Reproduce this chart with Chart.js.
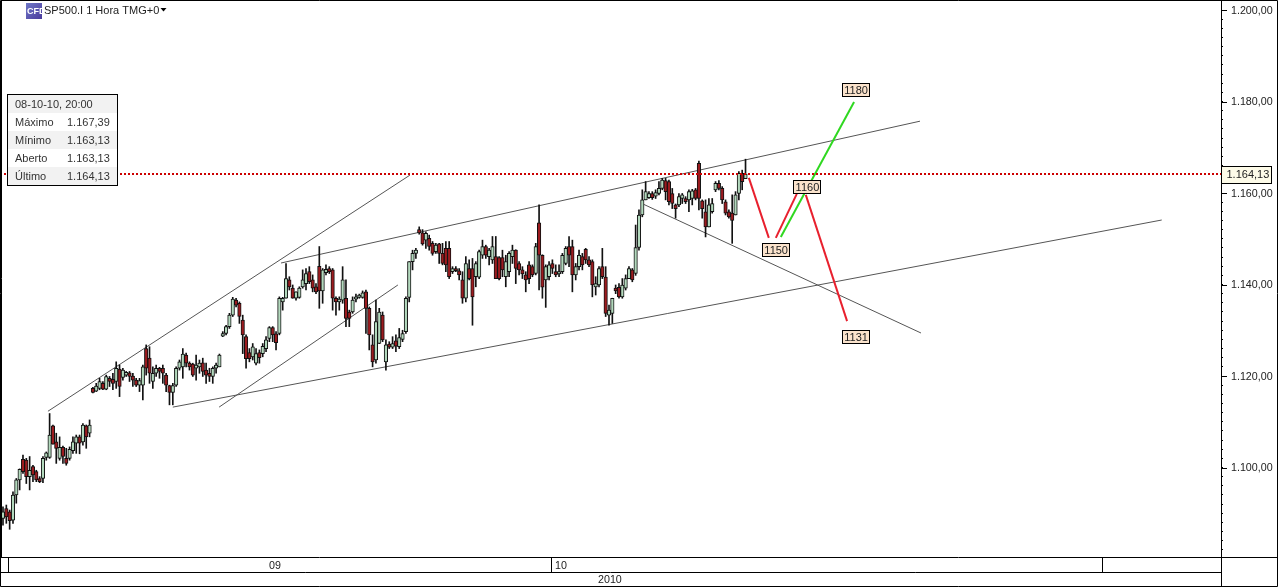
<!DOCTYPE html>
<html>
<head>
<meta charset="utf-8">
<title>SP500.I 1 Hora</title>
<script src="https://cdn.jsdelivr.net/npm/chart.js@4"></script>
<style>
  html, body { margin: 0; padding: 0; background: #fff; }
  canvas { display: block; }
</style>
</head>
<body>
<canvas id="myChart" width="1278" height="587"></canvas>
<script>
const opens = [
  1088.9,1091,1090.3,1088.5,1094,1097.3,1101.8,1101.6,1098,1100.2,1099.1,1097.6,1097.6,1102.2,1102.2,1109.1,1105.6,1102,1104.4,1102,1102,1103.7,1105.3,1106.7,1105.6,1109.1,1107.5,
  1117.3,1116.7,1117.3,1118.4,1117.1,1119.5,1119.3,1118.8,1121.5,1119.7,1120.2,1120.7,1120,1119.1,1118,1118,1126,1123.9,1118.8,1120.6,1121.7,1121.7,1120.2,1117.9,1116.4,1118,1121.7,1122,1124.6,1122.8,1122.6,1121.7,1122,1122.9,1121.3,1120.6,1119.9,1121.7,1122,
  1128.7,1129.3,1130.8,1133.3,1136.6,1135.9,1132.2,1128.6,1125.1,1124.2,
  1122.8,1125.1,1124.9,1126,1128.2,1130.6,1129.2,1129.3,1136.2,1137,
  1141,1139.2,1137,1137.2,1139.5,1140.2,1142.8,1141,1139.5,1144,
  1138.6,1142.6,1143.5,1143.2,1137,1136.2,1136.6,1137,1134,1134,
  1136.8,1137.2,1137.2,1138.4,1134.8,1126.8,1123.5,1127.1,1133.3,1123.1,
  1127,1126.3,1127.7,1126.4,1128,1129.7,1137.2,1145,1146.8,1152,
  1151.3,1149.7,1150.1,1149,1147.2,1148.9,
  1146.8,1147.9,1147.9,1142.8,1143.5,1143,1141,1137,1143.5,1143.5,
  1141.7,1141.6,1146.4,1148.3,1146.1,1145.4,1146.1,1145.9,1145.9,1141.7,
  1142.8,1146.1,1147.5,1144.6,1143.2,1142.1,1144.3,1143.9,1142.4,1153.5,
  1146.4,1141,1141.7,1144.6,1142.8,1142.3,1142.8,1144.6,1148.3,1148.3,
  1142.1,1143.9,1146.1,1147.7,1145.4,1145,1139.5,1139.9,1143.9,1141.6,
  1133.3,1133.7,1139.2,1139.4,1137.3,1139.2,1141.3,
  1143.2,1142.4,1148.1,1155.2,1158.5,1159,1159.9,1159.3,1159.9,1161,
  1162.7,1162.5,1159.9,1157.4,1157.4,1158.8,1158.8,1158.5,1158.8,1160.7,
  1166.5,1158.3,1155.9,1152.6,1155.9,1160.7,1162.1,1161,1158.1,1155.9,
  1155.6,1155.2,1159.9,1164.3,1163.13
];
const highs = [
  1091.4,1091.8,1090.7,1094.7,1097.6,1099.7,1102.7,1102,1102.4,1100.5,1099.4,1098,1102.4,1103.4,1111.8,1109.3,1107.5,1106.7,1104.7,1104.2,1104.5,1106.7,1107.1,1107.1,1109.6,1109.3,1110.4,
  1117.5,1118.4,1119.5,1118.8,1120.2,1119.9,1120.6,1123.1,1122.4,1121.7,1121,1121,1120.6,1119.5,1119.5,1122.4,1126.8,1126.4,1122,1122.4,1121.9,1122.4,1120.6,1118,1118.4,1122,1123.5,1126,1125,1123.1,1122.8,1124.6,1123.5,1123.9,1122.8,1121.7,1122,1122.8,1124.8,
  1129.7,1131.1,1133.7,1137.2,1137,1136.2,1133.3,1129,1126,1127.1,
  1126,1125.7,1127.1,1128.6,1130.8,1130.8,1129.7,1137.3,1137.2,1144.6,
  1141.7,1139.9,1138.4,1139.5,1143.2,1143.5,1143.9,1142.1,1140.2,1148.3,
  1143.5,1144.3,1143.9,1143.5,1137.3,1137.3,1143.9,1141,1134.4,1137.3,
  1137.9,1137.9,1138.6,1138.8,1135.1,1129,1136.6,1134.8,1134,1127.9,
  1127.5,1128.6,1129,1130.4,1130,1137.3,1145,1147.5,1147.9,1152.6,
  1152,1151.5,1150.8,1149.4,1149,1149,
  1149,1149.4,1149.4,1143.9,1143.9,1143.5,1142.8,1146.1,1145.4,1145.7,
  1145,1147.5,1149.7,1148.6,1147.9,1150.5,1150.5,1146.1,1147.5,1146.4,
  1147.2,1148.6,1147.6,1145,1143.9,1142.8,1145,1144.3,1149,1157.4,
  1146.5,1144.3,1145,1145.4,1144.3,1144.3,1146.8,1148.3,1150.5,1149.7,
  1144.6,1147.5,1146.8,1147.9,1146.1,1145.4,1141.7,1143.9,1147.9,1143.9,
  1135.5,1137,1139.9,1140.2,1141.3,1142.1,1143.9,
  1143.5,1153,1156.3,1160.7,1162.5,1160.3,1160.3,1160.7,1162.5,1163.2,
  1163.2,1162.8,1161,1157.6,1159.9,1159.9,1159.2,1160.7,1160.8,1161,
  1167,1158.5,1158.5,1158.8,1158.8,1162.5,1162.7,1161.4,1158.5,1156.3,
  1159.6,1160.3,1164.7,1165,1167.39
];
const lows = [
  1087.4,1087.8,1086.5,1087.8,1092.2,1095.1,1098.7,1096.5,1095.1,1096.9,1096.9,1096.7,1096.7,1101.6,1102,1105.1,1100.9,1101.6,1100.9,1100.5,1101.6,1103.1,1103.1,1103,1104.9,1104.2,1106.7,
  1116.3,1116.6,1117,1117,1117,1117.7,1117,1117.3,1115.5,1119.1,1119.9,1118.8,1117.7,1117.7,1116.6,1114.8,1120.2,1118.4,1117.3,1119.9,1119.5,1118.4,1116.6,1113.7,1113.7,1117.7,1121.3,1119.5,1122,1121.3,1119.9,1119.1,1120.6,1119.9,1118.4,1118.8,1118.4,1120.6,1122,
  1128.6,1129,1130.4,1133,1135.1,1131.5,1124.9,1121.7,1123.1,1123.5,
  1122.4,1122.8,1124.2,1125.3,1127.5,1127.5,1125.7,1129,1134.4,1137,
  1138.8,1137,1136.6,1137,1139.2,1138.8,1140.2,1138.4,1138,1134.8,
  1135.9,1142.1,1142.4,1134.4,1133.3,1134.4,1135.9,1130.8,1130.8,1133.7,
  1136.2,1137,1137,1129.3,1125.7,1122,1122.8,1127.1,1127.5,1121.3,
  1126,1126,1125.3,1126,1127.5,1129.3,1136.2,1143.2,1145.7,1151,
  1148.6,1147.9,1147.5,1146.4,1146.8,1144.6,
  1144.3,1142.8,1141.3,1142.4,1142.8,1141,1135.9,1136.2,1141,1131.1,
  1139.5,1141.3,1145.7,1145.7,1144.3,1144.6,1141.3,1141,1141.7,1139.5,
  1141.7,1144.6,1140.2,1142.1,1141.3,1138.4,1140.2,1141.7,1142.1,1138.8,
  1137,1135,1141,1142.4,1141.7,1141.7,1142.4,1144.3,1143.9,1138.4,
  1141,1143.2,1143.2,1144.6,1143.9,1137.3,1137.7,1139.5,1141.3,1133,
  1131.1,1131.5,1138,1137,1137,1138.8,1141.3,
  1140.6,1142,1147.5,1154.8,1158.5,1158.8,1158.6,1158.8,1159.6,1160.7,
  1158.5,1157.4,1156.6,1154.5,1157,1157.7,1157.7,1155.9,1157.4,1158.5,
  1156.3,1154.5,1150.4,1152.6,1155.6,1160.3,1160.7,1157.7,1155.2,1154.5,
  1149,1155.2,1158.5,1160.7,1163.13
];
const closes = [
  1090.3,1089.2,1088.4,1094,1097.3,1099.6,1099.1,1098,1099.4,1098.4,1097.3,1096.9,1102,1103.2,1107.1,1105.1,1104.2,1104.4,1102.4,1100.9,1104,1105.6,1106.7,1105.3,1109.3,1106.7,1109.3,
  1116.4,1117.8,1118.8,1117.1,1119.9,1118.8,1118.4,1121.7,1117.7,1121.3,1120.8,1119.9,1119.1,1118,1119,1122,1121.7,1120.6,1120.6,1121.7,1121,1120.6,1118,1116.4,1117.9,1121.7,1123.1,1124.8,1122.8,1122,1120.2,1122.4,1122.8,1121,1120.2,1119.9,1121.7,1122.4,1124.6,
  1129.3,1130.8,1133.3,1136.8,1135.5,1133,1129,1123.8,1123.8,1126.4,
  1124.9,1124,1126.5,1127.9,1130.6,1129,1127.3,1137,1137,1141.3,
  1139.5,1137,1138.4,1139.2,1141,1142.4,1140.6,1139.2,1138.4,1138.6,
  1143.2,1143.3,1142.8,1137,1136.2,1136.8,1141,1132.6,1132.6,1136.6,
  1137.3,1137.7,1138.2,1134.8,1129,1123.1,1131.9,1134,1127.9,1126.8,
  1126.3,1127.1,1126.5,1128.4,1129.3,1137,1145,1146.8,1147.5,1151.3,
  1148.9,1151.2,1148.3,1146.8,1148.6,1146.8,
  1144.6,1144.3,1141.7,1143.5,1143,1142.1,1137,1144.6,1141.3,1137.3,
  1144.6,1147.2,1148.3,1146.4,1147.5,1148.3,1141.3,1141.3,1143.2,1145,
  1146.8,1147.5,1143.5,1143.2,1142.3,1141,1141.3,1142.1,1148.3,1146.4,
  1139.4,1143.9,1144.3,1143.5,1142.1,1142.8,1146.4,1147.9,1146.4,1142.1,
  1143.9,1146.4,1144.3,1145.4,1144.3,1139.9,1140.2,1143.5,1141.7,1133.7,
  1134.4,1137,1138.6,1137.3,1139.9,1141.3,1143.5,
  1141,1148.1,1155.2,1158.5,1160.3,1159.9,1159,1160.1,1161,1162.8,
  1160.3,1158.1,1157.7,1156.6,1159.2,1159.6,1158.1,1160.3,1160.5,1158.8,
  1158.8,1156.6,1152.6,1157.4,1157.7,1162.1,1161,1158.5,1155.6,1154.8,
  1154,1159.6,1164.3,1162.5,1164.13
];

// [x1, y1, x2, y2] in candle index / price
const channelLines = [
  [83.5, 1144.7, 275.4, 1175.7],
  [51, 1113.2, 348, 1154.1],
  [13.5, 1112.3, 122.2, 1163.9],
  [64.9, 1113.2, 118.6, 1139.9],
  [191.6, 1157.8, 275.7, 1129.4]
];
const redLines = [
  [224, 1163.3, 230, 1150.2],
  [232.1, 1150.2, 238.4, 1159.8],
  [241.1, 1159.6, 253.5, 1132]
];
const greenLines = [
  [233.6, 1150.4, 255.6, 1179.9]
];

const lastPrice = 1164.13;
const targetTexts = ['1180', '1160', '1150', '1131'];
const targetX = [256.2, 241.6, 232.2, 256.2];
const targetY = [1182.5, 1161.3, 1147.5, 1128.5];

const monthLabels = ['09', '10'];
const monthTicks = [81.7, 167.6];
const monthSeparators = [1.5, 164.6, 330];
const yearLabel = '2010';

const infoRows = [
  ['08-10-10, 20:00', ''],
  ['Máximo', '1.167,39'],
  ['Mínimo', '1.163,13'],
  ['Aberto', '1.163,13'],
  ['Último', '1.164,13']
];

const FONT = '"Liberation Sans", Arial, sans-serif';

function precio(v) {
  const fixed = v.toFixed(2).replace('.', ',');
  return fixed.replace(/^(\d)(\d{3})/, '$1.$2');
}

function lineDataset(seg, color, width, order) {
  return {
    type: 'line',
    data: [{ x: seg[0], y: seg[1] }, { x: seg[2], y: seg[3] }],
    borderColor: color,
    borderWidth: width,
    pointRadius: 0,
    order: order
  };
}

function noPadding(axis) {
  axis.paddingTop = 0;
  axis.paddingBottom = 0;
  axis.paddingLeft = 0;
  axis.paddingRight = 0;
}

const chromePlugin = {
  id: 'chrome',
  afterDraw(chart) {
    const ctx = chart.ctx;
    const x = chart.scales.x;
    const y = chart.scales.y;
    const W = chart.width;
    const H = chart.height;
    const right = chart.chartArea.right;
    const bottom = chart.chartArea.bottom;

    ctx.save();
    ctx.textBaseline = 'middle';
    ctx.textAlign = 'left';

    // long ticks on the price axis
    ctx.strokeStyle = '#000';
    ctx.lineWidth = 1;
    y.ticks.forEach(t => {
      if (t.value % 20 === 0) {
        const py = Math.round(y.getPixelForValue(t.value)) + 0.5;
        ctx.beginPath();
        ctx.moveTo(right, py);
        ctx.lineTo(right + 6, py);
        ctx.stroke();
      }
    });

    // frame
    ctx.beginPath();
    ctx.moveTo(0.5, 0.5); ctx.lineTo(W - 0.5, 0.5); ctx.lineTo(W - 0.5, H - 0.5);
    ctx.lineTo(0.5, H - 0.5); ctx.lineTo(0.5, 0.5);
    ctx.moveTo(1.5, 0); ctx.lineTo(1.5, bottom);
    ctx.moveTo(right + 0.5, 0); ctx.lineTo(right + 0.5, H);
    ctx.moveTo(0, bottom + 0.5); ctx.lineTo(W, bottom + 0.5);
    ctx.moveTo(0, bottom + 15.5); ctx.lineTo(right, bottom + 15.5);
    monthSeparators.forEach(m => {
      const px = Math.round(x.getPixelForValue(m)) + 0.5;
      ctx.moveTo(px, bottom); ctx.lineTo(px, bottom + 15);
    });
    ctx.stroke();

    ctx.fillStyle = '#222';
    ctx.font = '10.7px ' + FONT;
    ctx.fillText(yearLabel, 598, bottom + 23);

    // instrument title
    const grad = ctx.createLinearGradient(26, 3, 42, 19);
    grad.addColorStop(0, '#6f78c8');
    grad.addColorStop(1, '#4a3a9c');
    ctx.fillStyle = grad;
    ctx.fillRect(26, 3, 16, 16);
    ctx.fillStyle = '#fff';
    ctx.font = 'bold 9px ' + FONT;
    ctx.fillText('CFD', 27, 11.5);
    ctx.fillStyle = '#222';
    ctx.font = '11px ' + FONT;
    ctx.fillText('SP500.I 1 Hora TMG+0', 44, 10.5);
    ctx.fillStyle = '#000';
    ctx.beginPath();
    ctx.moveTo(160.5, 8); ctx.lineTo(166.5, 8); ctx.lineTo(163.5, 11.5);
    ctx.fill();

    // info box
    ctx.fillStyle = '#fff';
    ctx.fillRect(7, 94, 111, 92);
    infoRows.forEach((row, i) => {
      if (i % 2 === 0) {
        ctx.fillStyle = '#f2f2f2';
        ctx.fillRect(8, 95 + i * 18, 109, 18);
      }
      ctx.fillStyle = '#333';
      ctx.font = '11px ' + FONT;
      ctx.fillText(row[0], 15, 104.5 + i * 18);
      if (row[1]) ctx.fillText(row[1], 67, 104.5 + i * 18);
    });
    ctx.strokeStyle = '#000';
    ctx.strokeRect(7.5, 94.5, 110, 91);

    // target boxes
    targetTexts.forEach((label, i) => {
      const px = x.getPixelForValue(targetX[i]);
      const py = y.getPixelForValue(targetY[i]);
      const bx = Math.round(px - 14);
      const by = Math.round(py - 7);
      ctx.fillStyle = '#fbe3cc';
      ctx.fillRect(bx, by, 28, 14);
      ctx.strokeStyle = '#000';
      ctx.strokeRect(bx + 0.5, by + 0.5, 27, 13);
      ctx.fillStyle = '#222';
      ctx.font = '11px ' + FONT;
      ctx.textAlign = 'center';
      ctx.fillText(label, px, py + 0.5);
      ctx.textAlign = 'left';
    });

    // last price tag
    const tagY = y.getPixelForValue(lastPrice);
    ctx.fillStyle = '#fdfbe8';
    ctx.fillRect(right + 1, tagY - 8, 50, 17);
    ctx.strokeStyle = '#000';
    ctx.strokeRect(right + 0.5, Math.round(tagY - 8) + 0.5, 50, 17);
    ctx.fillStyle = '#222';
    ctx.font = '11px ' + FONT;
    ctx.fillText(precio(lastPrice), right + 5.5, tagY + 1);

    ctx.restore();
  }
};

const ctx = document.getElementById('myChart').getContext('2d');

new Chart(ctx, {
  type: 'bar',
  data: {
    datasets: [
      ...channelLines.map(s => lineDataset(s, '#555', 1, 4)),
      {
        data: highs.map((h, i) => ({ x: i, y: [lows[i], h] })),
        backgroundColor: '#111',
        barThickness: 1,
        grouped: false,
        order: 3
      },
      {
        data: opens.map((o, i) => ({ x: i, y: [o, closes[i]] })),
        backgroundColor: opens.map((o, i) => closes[i] >= o ? '#b3d9bd' : '#9c1b1f'),
        borderColor: '#111',
        borderWidth: 1,
        borderSkipped: false,
        barThickness: 3.5,
        grouped: false,
        order: 2
      },
      ...redLines.map(s => lineDataset(s, '#e8202e', 2, 1)),
      ...greenLines.map(s => lineDataset(s, '#2fd820', 2, 1)),
      {
        type: 'line',
        data: [{ x: -0.9, y: lastPrice }, { x: 365.8, y: lastPrice }],
        borderColor: '#cc0000',
        borderWidth: 2,
        borderDash: [2, 2],
        pointRadius: 0,
        order: 0
      }
    ]
  },
  options: {
    responsive: false,
    animation: false,
    devicePixelRatio: 1,
    layout: { autoPadding: false, padding: { top: 1 } },
    plugins: {
      legend: { display: false },
      tooltip: { enabled: false }
    },
    scales: {
      x: {
        type: 'linear',
        min: -0.9,
        max: 365.8,
        offset: false,
        grid: { display: false, offset: false, drawTicks: false },
        border: { display: false },
        afterBuildTicks: axis => { axis.ticks = monthTicks.map(v => ({ value: v })); },
        afterFit: axis => { axis.height = 30; noPadding(axis); },
        ticks: {
          autoSkip: false,
          maxRotation: 0,
          padding: 3,
          color: '#222',
          font: { family: FONT, size: 10.7 },
          callback: (v, i) => monthLabels[i]
        }
      },
      y: {
        type: 'linear',
        position: 'right',
        min: 1080.44,
        max: 1201.97,
        afterFit: axis => { axis.width = 57; noPadding(axis); },
        border: { display: false },
        grid: { drawOnChartArea: false, tickLength: 2, tickColor: '#000', tickWidth: 1 },
        ticks: {
          stepSize: 2,
          includeBounds: false,
          autoSkip: false,
          maxRotation: 0,
          padding: 8,
          labelOffset: 1,
          color: '#222',
          font: { family: FONT, size: 10.7 },
          callback: v => (v % 20 === 0 ? precio(v) : '')
        }
      }
    }
  },
  plugins: [chromePlugin]
});
</script>
</body>
</html>
